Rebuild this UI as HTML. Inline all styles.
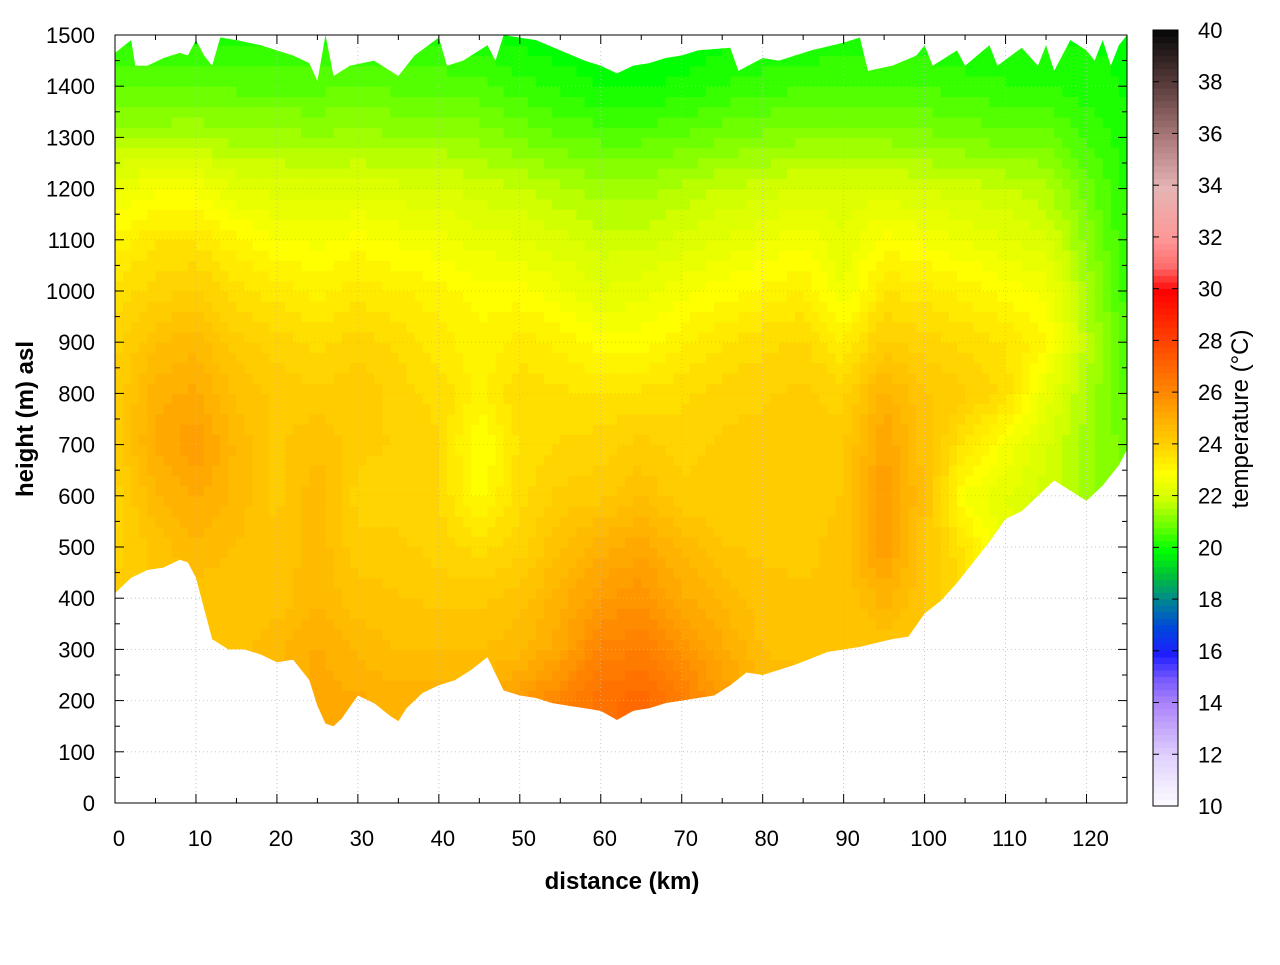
<!DOCTYPE html>
<html><head><meta charset="utf-8"><style>
body{margin:0;background:#fff;}
svg text{font-family:"Liberation Sans",sans-serif;}
</style></head><body>
<svg id="chart" xmlns="http://www.w3.org/2000/svg" width="1280" height="960" viewBox="0 0 1280 960">
<defs><clipPath id="terrainClip"><polygon id="clipPoly" points=""/></clipPath></defs>
<rect width="1280" height="960" fill="#fff"/>
<g id="cells" clip-path="url(#terrainClip)"></g>
<g id="grid"></g>
<g id="axes"></g>
<g id="cbar"></g>
<text x="622" y="889" font-size="24" font-weight="bold" text-anchor="middle">distance (km)</text>
<text transform="translate(33,419) rotate(-90)" font-size="24" font-weight="bold" text-anchor="middle">height (m) asl</text>
<text transform="translate(1248,419) rotate(-90)" font-size="24" text-anchor="middle">temperature (°C)</text>
</svg>
<script>
const gridKm=[0,5,10,15,20,25,30,35,40,45,50,55,60,65,70,75,80,85,90,95,100,105,110,115,120,125];
const gridH=[1500,1400,1300,1200,1100,1000,900,800,700,600,500,400,300,200,100,0];
const temps=[
[20.3,20.3,20.3,20.3,20.3,20.3,20.3,20.3,20.3,20.2,20.0,19.9,19.8,19.8,19.8,20.0,20.1,20.1,20.2,20.2,20.2,20.1,20.1,20.1,20.1,20.1],
[20.8,20.8,20.9,20.8,20.8,20.8,20.9,20.8,20.8,20.7,20.5,20.3,20.1,20.1,20.2,20.4,20.5,20.6,20.6,20.6,20.6,20.5,20.4,20.4,20.2,20.1],
[21.6,21.6,21.6,21.5,21.5,21.4,21.5,21.4,21.4,21.3,21.1,20.9,20.8,20.8,20.9,21.1,21.2,21.3,21.3,21.3,21.2,21.1,21.0,21.0,20.6,20.2],
[22.6,22.8,22.8,22.4,22.3,22.2,22.3,22.2,22.2,22.0,21.9,21.7,21.5,21.5,21.7,21.9,22.0,22.2,22.2,22.2,22.1,22.0,21.9,21.7,21.0,20.3],
[23.2,23.6,23.6,23.2,22.9,22.8,23.0,22.8,22.7,22.5,22.4,22.2,22.0,22.0,22.2,22.4,22.6,22.8,22.4,23.0,22.8,22.6,22.4,22.2,21.3,20.4],
[23.7,24.0,24.2,23.7,23.5,23.3,23.5,23.4,23.2,23.0,23.0,22.7,22.4,22.5,22.8,23.0,23.2,23.4,22.6,23.6,23.5,23.3,23.0,22.8,21.6,20.5],
[24.0,24.6,24.8,24.2,24.0,23.8,24.0,23.8,23.5,23.2,23.5,23.3,23.0,23.0,23.3,23.6,23.8,23.9,23.4,24.2,24.0,23.8,23.6,23.2,21.8,20.6],
[24.2,25.0,25.2,24.6,24.3,24.2,24.3,24.0,23.8,23.3,23.8,23.7,23.6,23.7,23.8,24.0,24.1,24.2,24.0,25.0,24.4,24.2,23.8,22.5,21.6,20.8],
[24.2,25.2,25.6,24.8,24.3,24.6,24.2,24.1,23.9,22.8,23.7,23.9,24.0,24.2,24.0,24.2,24.2,24.2,24.3,25.4,24.5,23.6,22.8,22.2,21.5,21.0],
[24.0,24.8,25.2,24.8,24.3,24.8,24.0,24.0,23.9,23.0,23.8,24.2,24.3,24.6,24.2,24.2,24.2,24.2,24.4,25.6,24.6,22.8,22.4,22.0,21.5,21.0],
[24.0,24.5,24.8,24.6,24.4,24.8,24.2,24.2,24.0,23.8,24.0,24.6,25.0,25.3,24.8,24.4,24.3,24.3,24.5,25.6,24.4,23.6,22.5,22.0,21.5,21.0],
[24.2,24.4,24.5,24.5,24.5,24.8,24.5,24.4,24.3,24.3,24.5,25.0,25.6,25.8,25.2,24.8,24.5,24.4,24.4,25.0,24.4,23.8,22.5,22.0,21.5,21.0],
[24.4,24.5,24.5,24.5,24.8,25.2,24.8,24.6,24.6,24.6,24.8,25.3,26.2,26.4,25.8,25.2,24.6,24.5,24.4,24.4,24.4,23.8,22.5,22.0,21.5,21.0],
[24.6,24.8,24.8,25.0,25.0,25.2,25.2,25.0,25.0,25.2,25.6,26.2,26.8,27.0,26.4,25.6,25.0,24.8,24.6,24.6,24.6,24,23,22,21.5,21],
[25,25,25,25,25,25.2,25.2,25,25,25.2,25.6,26.2,26.8,27,26.4,25.6,25,25,25,25,25,24,23,22,21.5,21],
[25,25,25,25,25,25.2,25.2,25,25,25.2,25.6,26.2,26.8,27,26.4,25.6,25,25,25,25,25,24,23,22,21.5,21]];
const groundKm=[0,2,4,6,8,9,10,11,12,14,16,18,20,22,24,25,26,27,28,30,32,34,35,36,38,40,42,44,46,48,50,52,54,56,58,60,62,64,66,68,70,74,76,78,80,84,88,92,96,98,100,102,104,106,108,110,112,114,116,118,120,122,124,125];
const groundH=[410,440,455,460,475,470,440,380,320,300,300,290,275,280,240,190,155,150,165,210,195,170,160,185,215,230,240,260,285,220,210,205,195,190,185,180,162,180,185,195,200,210,230,255,250,270,295,305,320,325,370,395,430,470,510,555,570,600,630,610,590,620,660,690];
const topKm=[0,2,2.5,4,6,8,9,10,11,12,13,15,18,20,22,24,25,26,27,29,32,34,35,37,40,41,43,45,46,47,48,52,55,58,60,62,64,66,68,70,72,76,77,80,82,86,90,92,93,96,99,100,101,104,105,108,109,112,114,115,116,118,120,121,122,123,124,125];
const topH=[1465,1490,1440,1440,1455,1465,1460,1490,1460,1440,1495,1490,1480,1470,1460,1445,1410,1500,1420,1440,1450,1430,1420,1460,1495,1440,1450,1470,1480,1450,1500,1490,1470,1450,1440,1425,1440,1445,1455,1460,1470,1475,1430,1455,1450,1470,1485,1495,1430,1440,1460,1480,1440,1470,1440,1480,1440,1475,1440,1480,1430,1490,1470,1450,1490,1440,1480,1500];
const xTicks=[0,10,20,30,40,50,60,70,80,90,100,110,120];
const yTicks=[0,100,200,300,400,500,600,700,800,900,1000,1100,1200,1300,1400,1500];
const cbTicks=[10,12,14,16,18,20,22,24,26,28,30,32,34,36,38,40];
const cStops=[[10,255,255,255],[12,225,210,255],[14,175,135,250],[15,120,90,255],[16,30,30,255],[17,0,70,220],[18,0,130,150],[19,0,190,60],[20,0,255,0],[21,110,255,0],[22,210,255,0],[23,255,255,0],[24,255,212,0],[25,255,178,0],[26,255,140,0],[28,255,70,0],[30,255,0,0],[31,255,110,110],[32,255,150,150],[34,230,180,180],[36,170,120,120],[38,90,60,60],[40,10,10,10]];
const X0=115,X1=1127,Y0=803,Y1=35;
const xs=k=>X0+(X1-X0)*k/125, ys=h=>Y0-(Y0-Y1)*h/1500;
function col(t){t=Math.round(t*4)/4;for(let i=0;i<cStops.length-1;i++){const a=cStops[i],b=cStops[i+1];if(t<=b[0]){const f=Math.max(0,(t-a[0])/(b[0]-a[0]));return `rgb(${[1,2,3].map(j=>Math.round(a[j]+(b[j]-a[j])*f)).join(',')})`;}}return 'rgb(10,10,10)';}
function val(k,h){let i=Math.min(24,Math.floor(k/5));let fx=(k-gridKm[i])/5;let r=Math.min(14,Math.floor((1500-h)/100));let fy=(gridH[r]-h)/100;
const a=temps[r][i],b=temps[r][i+1],c=temps[r+1][i],d=temps[r+1][i+1];return (a*(1-fx)+b*fx)*(1-fy)+(c*(1-fx)+d*fx)*fy;}
const NS='http://www.w3.org/2000/svg';
function mk(tag,attrs,parent){const e=document.createElementNS(NS,tag);for(const k in attrs)e.setAttribute(k,attrs[k]);parent.appendChild(e);return e;}
let pts=topKm.map((k,i)=>xs(k)+','+ys(topH[i]));
for(let i=groundKm.length-1;i>=0;i--)pts.push(xs(groundKm[i])+','+ys(groundH[i]));
document.getElementById('clipPoly').setAttribute('points',pts.join(' '));
const cells=document.getElementById('cells');
const dk=1,dh=20;
for(let k=0;k<125;k+=dk){for(let h=100;h<1500;h+=dh){
const r=mk('rect',{x:xs(k).toFixed(2),y:ys(h+dh).toFixed(2),width:(xs(dk)-X0+0.6).toFixed(2),height:(ys(0)-ys(dh)+0.6).toFixed(2),fill:col(val(k+dk/2,h+dh/2))},cells);

}}
const grid=document.getElementById('grid');
xTicks.forEach(k=>{if(k>0){const l=mk('line',{x1:xs(k),x2:xs(k),y1:Y1,y2:Y0,stroke:'#bbb','stroke-width':0.8,'stroke-dasharray':'1,3'},grid);}});
yTicks.forEach(h=>{if(h>0&&h<1500){const l=mk('line',{x1:X0,x2:X1,y1:ys(h),y2:ys(h),stroke:'#bbb','stroke-width':0.8,'stroke-dasharray':'1,3'},grid);}});
const ax=document.getElementById('axes');
mk('rect',{x:X0,y:Y1,width:X1-X0,height:Y0-Y1,fill:'none',stroke:'#000','stroke-width':1},ax);
for(let k=0;k<=125;k+=5){const L=k%10==0?9:5;mk('line',{x1:xs(k),x2:xs(k),y1:Y0,y2:Y0-L,stroke:'#000'},ax);mk('line',{x1:xs(k),x2:xs(k),y1:Y1,y2:Y1+L,stroke:'#000'},ax);}
for(let h=0;h<=1500;h+=50){const L=h%100==0?9:5;mk('line',{x1:X0,x2:X0+L,y1:ys(h),y2:ys(h),stroke:'#000'},ax);mk('line',{x1:X1,x2:X1-L,y1:ys(h),y2:ys(h),stroke:'#000'},ax);}
xTicks.forEach(k=>{const t=mk('text',{x:xs(k)+4,y:846,'font-size':22,'text-anchor':'middle'},ax);t.textContent=k;});
yTicks.forEach(h=>{const t=mk('text',{x:95,y:ys(h)+8,'font-size':22,'text-anchor':'end'},ax);t.textContent=h;});
const cb=document.getElementById('cbar');
const CX=1153,CW=25,CT=30,CB=806,cy=t=>CB-(CB-CT)*(t-10)/30;
for(let t=10;t<40;t+=0.25){const r=mk('rect',{x:CX,y:cy(t+0.25)-0.3,width:CW,height:(cy(t)-cy(t+0.25)+0.6),fill:col(t+0.125)},cb);}
mk('rect',{x:CX,y:CT,width:CW,height:CB-CT,fill:'none',stroke:'#000'},cb);
cbTicks.forEach(t=>{mk('line',{x1:CX,x2:CX+6,y1:cy(t),y2:cy(t),stroke:'#000'},cb);mk('line',{x1:CX+CW,x2:CX+CW-6,y1:cy(t),y2:cy(t),stroke:'#000'},cb);
const tx=mk('text',{x:1198,y:cy(t)+8,'font-size':22},cb);tx.textContent=t;});
</script>
</body></html>
